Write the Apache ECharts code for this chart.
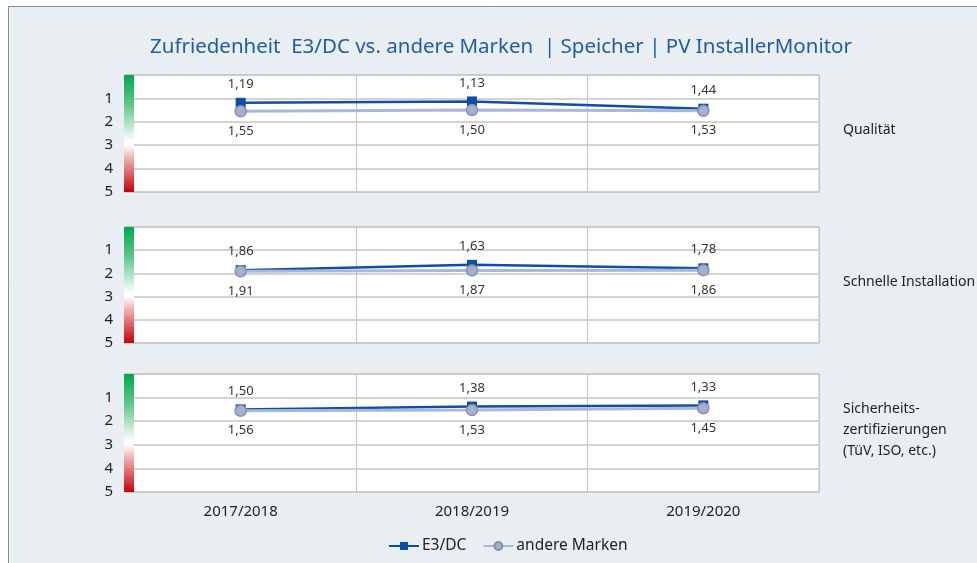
<!DOCTYPE html>
<html>
<head>
<meta charset="utf-8">
<script src="https://cdn.jsdelivr.net/npm/echarts@6/dist/echarts.min.js"></script>
<style>
  html, body { margin: 0; padding: 0; background: #fff; }
  #chart { width: 977px; height: 563px; }
</style>
</head>
<body>
<div id="chart"></div>
<script>
// Data
const years = ['2017/2018', '2018/2019', '2019/2020'];
const panelNames = ['Qualität', 'Schnelle Installation', 'Sicherheits-\nzertifizierungen\n(TüV, ISO, etc.)'];
const scaleTicks = [1, 2, 3, 4, 5];

const e3dcQualitaet = [1.19, 1.13, 1.44];
const andereQualitaet = [1.55, 1.50, 1.53];
const e3dcInstallation = [1.86, 1.63, 1.78];
const andereInstallation = [1.91, 1.87, 1.86];
const e3dcSicherheit = [1.50, 1.38, 1.33];
const andereSicherheit = [1.56, 1.53, 1.45];

const e3dcSeries = [e3dcQualitaet, e3dcInstallation, e3dcSicherheit];
const andereSeries = [andereQualitaet, andereInstallation, andereSicherheit];

// Layout
const FONT = '"Noto Sans", sans-serif';
const plotLeft = 125;
const plotRight = 819;
const panels = [
  { top: 75, height: 117 },
  { top: 227, height: 116 },
  { top: 374, height: 118 }
];
const DARK = '#0d4ea6';
const LIGHT = '#aab8d8';

const fmt = p => p.value.toFixed(2).replace('.', ',');

const chart = echarts.init(document.getElementById('chart'));

const grids = panels.map(p => ({
  left: plotLeft,
  width: plotRight - plotLeft,
  top: p.top,
  height: p.height,
  show: true,
  backgroundColor: '#fff',
  borderColor: '#bdbdbd',
  borderWidth: 1
}));

const xAxes = panels.map((p, i) => ({
  type: 'category',
  gridIndex: i,
  data: years,
  axisLine: { show: false },
  axisTick: { show: false },
  splitLine: { show: true, lineStyle: { color: '#c4c4c4', width: 1 } },
  axisLabel: {
    show: i === panels.length - 1,
    color: '#222',
    fontFamily: FONT,
    fontSize: 15,
    margin: 12
  }
}));

const yAxes = panels.map((p, i) => ({
  type: 'value',
  gridIndex: i,
  inverse: true,
  min: 0,
  max: 5,
  interval: 1,
  axisLine: { show: false },
  axisTick: { show: false },
  splitLine: { show: true, lineStyle: { color: '#c4c4c4', width: 1.5 } },
  axisLabel: {
    color: '#222',
    fontFamily: FONT,
    fontSize: 15,
    margin: 12,
    formatter: v => (scaleTicks.indexOf(v) >= 0 ? String(v) : '')
  }
}));

const series = [];
panels.forEach((p, i) => {
  series.push({
    name: 'E3/DC',
    type: 'line',
    xAxisIndex: i,
    yAxisIndex: i,
    data: e3dcSeries[i],
    symbol: 'rect',
    symbolSize: 10,
    z: 3,
    lineStyle: { color: DARK, width: 2.5 },
    itemStyle: { color: DARK },
    label: {
      show: true, position: 'top', distance: 7,
      color: '#333', fontFamily: FONT, fontSize: 13, formatter: fmt
    }
  });
  series.push({
    name: 'andere Marken',
    type: 'line',
    xAxisIndex: i,
    yAxisIndex: i,
    data: andereSeries[i],
    symbol: 'circle',
    symbolSize: 11,
    z: 4,
    lineStyle: { color: LIGHT, width: 3 },
    itemStyle: { color: '#a3b0cf', borderColor: '#8791a8', borderWidth: 1.5 },
    label: {
      show: true, position: 'bottom', distance: 7,
      color: '#333', fontFamily: FONT, fontSize: 13, formatter: fmt
    }
  });
});

const graphics = [
  {
    type: 'rect', z: -10, silent: true,
    shape: { x: 8.5, y: 6.5, width: 1000, height: 600 },
    style: { fill: '#e9eef3', stroke: '#8c8c8c', lineWidth: 1 }
  }
];
panels.forEach((p, i) => {
  graphics.push({
    type: 'rect', z: 100, silent: true,
    shape: { x: plotLeft - 1, y: p.top, width: 10, height: p.height },
    style: {
      fill: new echarts.graphic.LinearGradient(0, 0, 0, 1, [
        { offset: 0, color: '#00a94f' },
        { offset: 0.25, color: '#5cc68a' },
        { offset: 0.57, color: '#ffffff' },
        { offset: 0.6, color: '#ffffff' },
        { offset: 0.7, color: '#efb8b8' },
        { offset: 1, color: '#c8000a' }
      ])
    }
  });
  const lines = panelNames[i].split('\n').length;
  graphics.push({
    type: 'text', z: 100, silent: true,
    x: 843,
    y: p.top + p.height / 2 - 3 - (lines * 21) / 2,
    style: {
      text: panelNames[i],
      fill: '#222',
      font: '14px ' + FONT,
      lineHeight: 21,
      verticalAlign: 'top'
    }
  });
});

chart.setOption({
  backgroundColor: '#fff',
  animation: false,
  title: {
    text: 'Zufriedenheit  E3/DC vs. andere Marken  | Speicher | PV InstallerMonitor',
    left: 145,
    top: 32,
    textStyle: { color: '#1f5cab', fontFamily: FONT, fontSize: 20.5, fontWeight: 'normal' }
  },
  legend: {
    data: ['E3/DC', 'andere Marken'],
    top: 533,
    left: 383,
    itemWidth: 30,
    itemHeight: 10,
    itemGap: 16,
    textStyle: { color: '#222', fontFamily: FONT, fontSize: 15.5, padding: [0, 0, 0, -2] }
  },
  grid: grids,
  xAxis: xAxes,
  yAxis: yAxes,
  series: series,
  graphic: graphics
});
</script>
</body>
</html>
